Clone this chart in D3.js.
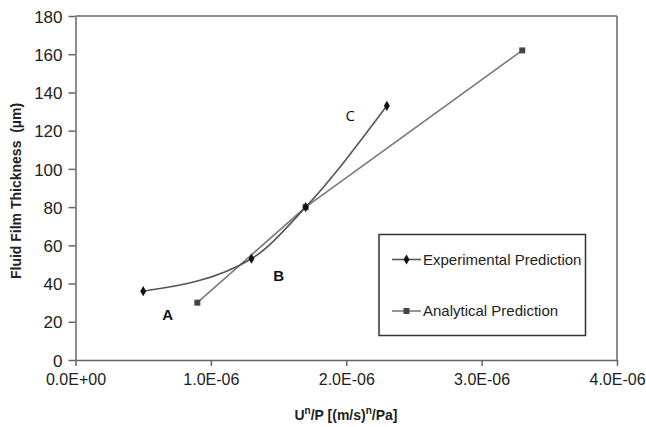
<!DOCTYPE html>
<html><head><meta charset="utf-8">
<script src="https://cdn.jsdelivr.net/npm/d3@7"></script>
<style>body{margin:0;background:#fff;} svg{display:block;font-family:Arial,"Liberation Sans",sans-serif;}</style>
</head><body>
<svg id="c" width="646" height="427"></svg>
<script>
const xTicks = [0, 1e-6, 2e-6, 3e-6, 4e-6];
const xTickLabels = ["0.0E+00", "1.0E-06", "2.0E-06", "3.0E-06", "4.0E-06"];
const yTicks = [0, 20, 40, 60, 80, 100, 120, 140, 160, 180];
const expX = [0.5e-6, 1.3e-6, 1.7e-6, 2.3e-6];
const expY = [36, 53, 80, 133];
const anaX = [0.9e-6, 1.7e-6, 3.3e-6];
const anaY = [30, 80, 162];
const seriesNames = ["Experimental Prediction", "Analytical Prediction"];
const annotations = [
  {t: "A", x: 0.68e-6, y: 24, bold: true},
  {t: "B", x: 1.5e-6, y: 44, bold: true},
  {t: "C", x: 2.03e-6, y: 128, bold: false}
];

const svg = d3.select("#c");
const L = 75.5, R = 617, T = 16, B = 360;
const x = d3.scaleLinear().domain([0, 4e-6]).range([L, R]);
const y = d3.scaleLinear().domain([0, 180]).range([B, T]);
const axisCol = "#666";

// frame top/right
svg.append("line").attr("x1", L).attr("x2", R).attr("y1", T).attr("y2", T).attr("stroke", axisCol).attr("stroke-width", 1.5);
svg.append("line").attr("x1", R).attr("x2", R).attr("y1", T).attr("y2", B).attr("stroke", axisCol).attr("stroke-width", 1.5);

const xAxis = svg.append("g").attr("transform", `translate(0,${B})`)
  .call(d3.axisBottom(x).tickValues(xTicks).tickFormat((d, i) => xTickLabels[i]).tickSize(6).tickPadding(8).tickSizeOuter(0));
const yAxis = svg.append("g").attr("transform", `translate(${L},0)`)
  .call(d3.axisLeft(y).tickValues(yTicks).tickSize(7).tickPadding(6).tickSizeOuter(0));
[xAxis, yAxis].forEach(g => {
  g.select(".domain").attr("stroke", axisCol).attr("stroke-width", 1.5);
  g.selectAll(".tick line").attr("stroke", axisCol).attr("stroke-width", 1.5);
  g.selectAll(".tick text").attr("fill", "#222").style("font-size", "16px").style("font-family", "Arial, 'Liberation Sans', sans-serif");
});
yAxis.selectAll(".tick text").style("font-size", "17px").attr("dy", "0.36em");

// axis titles
svg.append("text").attr("x", 346).attr("y", 420).attr("text-anchor", "middle")
  .style("font-size", "14px").style("font-weight", "bold").attr("fill", "#222")
  .html('U<tspan dy="-6" font-size="10px">n</tspan><tspan dy="6">/P [(m/s)</tspan><tspan dy="-6" font-size="10px">n</tspan><tspan dy="6">/Pa]</tspan>');
svg.append("text").attr("transform", "translate(21,191) rotate(-90)").attr("text-anchor", "middle")
  .style("font-size", "14px").style("font-weight", "bold").attr("fill", "#222")
  .attr("xml:space", "preserve")
  .text("Fluid Film Thickness  (\u00b5m)");

// series
const expData = expX.map((v, i) => [v, expY[i]]);
const anaData = anaX.map((v, i) => [v, anaY[i]]);
svg.append("path").datum(anaData)
  .attr("d", d3.line().x(d => x(d[0])).y(d => y(d[1])))
  .attr("fill", "none").attr("stroke", "#7a7a7a").attr("stroke-width", 1.6);
svg.append("path").datum(expData)
  .attr("d", d3.line().curve(d3.curveMonotoneX).x(d => x(d[0])).y(d => y(d[1])))
  .attr("fill", "none").attr("stroke", "#555").attr("stroke-width", 1.6);

const diamond = d3.symbol().type(d3.symbolDiamond).size(30);
const square = d3.symbol().type(d3.symbolSquare).size(36);
svg.selectAll(".ma").data(anaData).enter().append("path")
  .attr("d", square).attr("transform", d => `translate(${x(d[0])},${y(d[1])})`).attr("fill", "#444");
svg.selectAll(".me").data(expData).enter().append("path")
  .attr("d", diamond).attr("transform", d => `translate(${x(d[0])},${y(d[1])})`).attr("fill", "#111");

// annotations
annotations.forEach(a => {
  svg.append("text").attr("x", x(a.x)).attr("y", y(a.y)).attr("text-anchor", "middle").attr("dy", "0.36em")
    .style("font-size", "15px").style("font-weight", a.bold ? "bold" : "normal")
    .style("font-family", a.bold ? "Arial, 'Liberation Sans', sans-serif" : "'Open Sans', sans-serif")
    .attr("fill", "#111").text(a.t);
});

// legend
const lg = svg.append("g");
lg.append("rect").attr("x", 379).attr("y", 234.5).attr("width", 206.5).attr("height", 101)
  .attr("fill", "#fff").attr("stroke", "#333").attr("stroke-width", 1.5);
const legRows = [
  {name: seriesNames[0], yy: 259.5, sym: diamond, col: "#555", mcol: "#111"},
  {name: seriesNames[1], yy: 311, sym: square, col: "#7a7a7a", mcol: "#444"}
];
legRows.forEach(r => {
  lg.append("line").attr("x1", 392).attr("x2", 421).attr("y1", r.yy).attr("y2", r.yy).attr("stroke", r.col).attr("stroke-width", 1.6);
  lg.append("path").attr("d", r.sym).attr("transform", `translate(406.5,${r.yy})`).attr("fill", r.mcol);
  lg.append("text").attr("x", 423).attr("y", r.yy).attr("dy", "0.36em").style("font-size", "15px").attr("fill", "#222").text(r.name);
});
</script>
</body></html>
